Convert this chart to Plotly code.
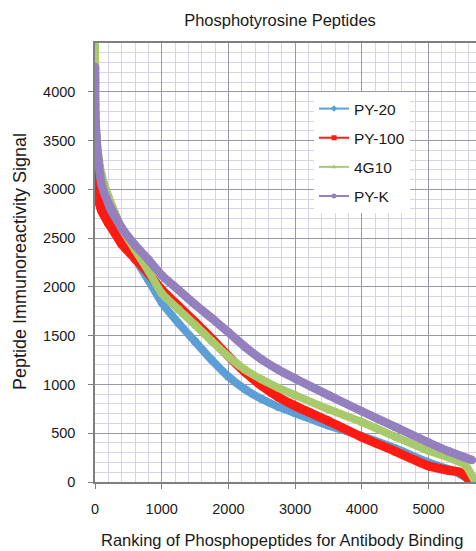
import plotly.graph_objects as go

# ---- data ----
series_names = ["PY-20", "PY-100", "4G10", "PY-K"]

rank_py20 = [1, 5, 20, 50, 100, 200, 300, 400, 600, 800, 1000, 1250, 1500, 1750,
             2000, 2250, 2500, 2750, 3000, 3500, 4000, 4500, 5000, 5300, 5500, 5680]
sig_py20 = [3500, 3400, 3200, 3050, 2930, 2775, 2640, 2510, 2290, 2070, 1840, 1630, 1440, 1250,
            1080, 950, 850, 770, 705, 580, 470, 345, 200, 130, 70, 0]

rank_py100 = [1, 3, 10, 20, 50, 100, 200, 300, 400, 600, 800, 1000, 1250, 1500, 1750,
              2000, 2250, 2500, 2750, 3000, 3500, 4000, 4500, 5000, 5300, 5470, 5620]
sig_py100 = [3300, 3200, 3100, 3050, 2900, 2780, 2655, 2550, 2440, 2290, 2140, 1970, 1805, 1640, 1470,
             1290, 1125, 985, 870, 780, 625, 460, 315, 165, 120, 100, 15]

rank_4g10 = [1, 2, 3, 5, 10, 20, 50, 100, 200, 300, 400, 600, 800, 1000, 1250, 1500, 1750,
             2000, 2250, 2500, 2750, 3000, 3500, 4000, 4500, 5000, 5300, 5550, 5700]
sig_4g10 = [4480, 4000, 3880, 3800, 3700, 3560, 3350, 3150, 2930, 2760, 2600, 2380, 2165, 1935, 1770, 1610, 1445,
            1285, 1150, 1050, 965, 890, 745, 615, 465, 320, 250, 175, 0]

rank_pyk = [1, 2, 3, 5, 10, 20, 50, 100, 200, 300, 400, 600, 800, 1000, 1250, 1500, 1750,
            2000, 2250, 2500, 2750, 3000, 3500, 4000, 4500, 5000, 5300, 5650]
sig_pyk = [4255, 4085, 3870, 3780, 3700, 3550, 3300, 3050, 2860, 2730, 2605, 2430, 2280, 2120, 1970, 1820, 1680,
           1535, 1385, 1255, 1150, 1060, 890, 725, 565, 405, 315, 225]

x_ticks = [0, 1000, 2000, 3000, 4000, 5000]
y_ticks = [0, 500, 1000, 1500, 2000, 2500, 3000, 3500, 4000]

colors = ["#5b9fd6", "#ff1a12", "#a9ca6c", "#9580bf"]
symbols = ["diamond", "square", "triangle-up", "circle"]
ranks = [rank_py20, rank_py100, rank_4g10, rank_pyk]
sigs = [sig_py20, sig_py100, sig_4g10, sig_pyk]
widths = [8, 9, 8, 8.5]

fig = go.Figure()
for name, c, r, s, w in zip(series_names, colors, ranks, sigs, widths):
    fig.add_trace(go.Scatter(
        x=r, y=s, mode="lines+markers", name=name, showlegend=False,
        line=dict(color=c, width=w, shape="spline", smoothing=0.6),
        marker=dict(color=c, size=w, symbol="circle"),
    ))
# legend entries (thin line with small marker, as in the original legend)
for name, c, sym in zip(series_names, colors, symbols):
    fig.add_trace(go.Scatter(
        x=[None], y=[None], mode="lines+markers", name=name, legendgroup=name,
        line=dict(color=c, width=2), marker=dict(color=c, size=5, symbol=sym),
    ))

font_family = "Liberation Sans, Arial, sans-serif"
axis_common = dict(
    showline=True, linecolor="#7f7f7f", linewidth=1.5,
    ticks="outside", ticklen=5, tickcolor="#7f7f7f", tickwidth=1,
    showgrid=True, gridcolor="#9a97a8", gridwidth=1,
    zeroline=False, tickfont=dict(family=font_family, size=14.5, color="#1a1a1a"),
)

fig.update_layout(
    width=476, height=551,
    margin=dict(l=95, r=0, t=43, b=69),
    paper_bgcolor="white", plot_bgcolor="white",
    title=dict(text="Phosphotyrosine Peptides", x=280 / 476, xanchor="center",
               y=1 - 20 / 551, yanchor="middle",
               font=dict(family=font_family, size=16.5, color="#1a1a1a")),
    xaxis=dict(range=[0, 5712], tickvals=x_ticks, mirror=True,
               minor=dict(dtick=200, tick0=0, showgrid=True, gridcolor="#d8d3e8", gridwidth=1, ticks=""),
               ticklabelstandoff=8, **axis_common),
    yaxis=dict(range=[0, 4500], tickvals=y_ticks,
               minor=dict(dtick=100, tick0=0, showgrid=True, gridcolor="#d8d3e8", gridwidth=1, ticks=""),
               ticklabelstandoff=10, **axis_common),
    legend=dict(x=(314 - 95) / 381, y=(482 - 92) / 439, xanchor="left", yanchor="top",
                bgcolor="white", borderwidth=0, traceorder="grouped", tracegroupgap=6,
                font=dict(family=font_family, size=15.5, color="#1a1a1a")),
    showlegend=True,
)

fig.add_annotation(text="Ranking of Phosphopeptides for Antibody Binding",
                   xref="paper", yref="paper", x=(282 - 95) / 381, y=(482 - 540) / 439,
                   xanchor="center", yanchor="middle", showarrow=False,
                   font=dict(family=font_family, size=16.5, color="#1a1a1a"))
fig.add_annotation(text="Peptide Immunoreactivity Signal",
                   xref="paper", yref="paper", x=(20 - 95) / 381, y=(482 - 262) / 439,
                   xanchor="center", yanchor="middle", showarrow=False, textangle=-90,
                   font=dict(family=font_family, size=18, color="#1a1a1a"))

fig.write_html("out.html", config={"displayModeBar": False},
               post_script="document.body.style.margin='0';document.body.style.overflow='hidden';")
